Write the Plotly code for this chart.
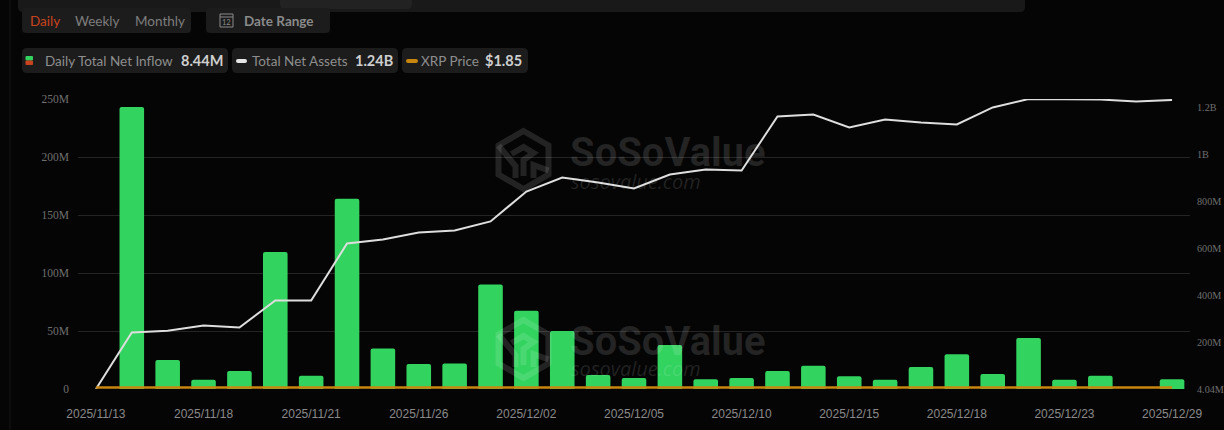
import plotly.graph_objects as go

dates = ["2025/11/13","2025/11/14","2025/11/17","2025/11/18","2025/11/19","2025/11/20","2025/11/21",
         "2025/11/24","2025/11/25","2025/11/26","2025/11/28","2025/12/01","2025/12/02","2025/12/03",
         "2025/12/04","2025/12/05","2025/12/08","2025/12/09","2025/12/10","2025/12/11","2025/12/12",
         "2025/12/15","2025/12/16","2025/12/17","2025/12/18","2025/12/19","2025/12/22","2025/12/23",
         "2025/12/24","2025/12/26","2025/12/29"]
net_inflow_m = [0,243,25,8,15.5,118,11.5,164,35,21.5,22,90,67.5,50,12,9.5,38,8.5,9.5,15.5,20,11,8,19,30,13,44,8,11.5,0,8.44]
net_assets_m = [4.04,244,252,274,265,380,380,622,639,669,677,716,843,902,881,856,915,936,932,1162,1170,1115,1149,1136,1128,1200,1236,1236,1234,1225,1232]
xrp_price = [2.33,2.45,2.20,2.15,2.10,2.02,1.95,2.05,2.20,2.20,2.18,2.05,2.10,2.18,2.08,2.05,2.05,2.08,2.05,2.02,2.00,1.95,1.90,1.85,1.88,1.90,1.92,1.88,1.87,1.86,1.85]
left_ticks_m = [0,50,100,150,200,250]
left_labels = ["0","50M","100M","150M","200M","250M"]
right_ticks_m = [4.04,200,400,600,800,1000,1200]
right_labels = ["4.04M","200M","400M","600M","800M","1B","1.2B"]
x_labels = dates[0::3]

W, H = 1224, 430
L, R, T, B = 78, 34, 99, 41
def px(x): return (x - L) / (W - L - R)
def py(y): return (H - B - y) / (H - T - B)

fig = go.Figure()
fig.add_bar(x=dates, y=net_inflow_m, marker=dict(color="#32D35F", line_width=0), width=0.685, name="Daily Total Net Inflow")
fig.add_scatter(x=dates, y=net_assets_m, yaxis="y2", mode="lines", line=dict(color="#DEDEDE", width=2), name="Total Net Assets", cliponaxis=False)
fig.add_scatter(x=dates, y=xrp_price, yaxis="y3", mode="lines", line=dict(color="#C8860F", width=2.5), name="XRP Price", cliponaxis=False)

shapes, ann = [], []
def rect(x0, y0, x1, y1, color, r=4):
    path = (f"M{px(x0+r)},{py(y0)} L{px(x1-r)},{py(y0)} Q{px(x1)},{py(y0)} {px(x1)},{py(y0+r)} "
            f"L{px(x1)},{py(y1-r)} Q{px(x1)},{py(y1)} {px(x1-r)},{py(y1)} L{px(x0+r)},{py(y1)} "
            f"Q{px(x0)},{py(y1)} {px(x0)},{py(y1-r)} L{px(x0)},{py(y0+r)} Q{px(x0)},{py(y0)} {px(x0+r)},{py(y0)} Z")
    shapes.append(dict(type="path", path=path, xref="paper", yref="paper", fillcolor=color, line_width=0, layer="below"))
def text(x, y, s, color="#8a8a8a", size=13, anchor="left", family="Lato", **kw):
    ann.append(dict(x=px(x), y=py(y), xref="paper", yref="paper", text=s, showarrow=False, xanchor=anchor,
                    yanchor="middle", font=dict(color=color, size=size, family=family), borderpad=0, **kw))

# page chrome
shapes.append(dict(type="line", x0=px(10), x1=px(10), y0=py(0), y1=py(430), xref="paper", yref="paper",
                   line=dict(color="#161616", width=1), layer="below"))
rect(18, -8, 1025, 12, "#191919", 5)
rect(280, -8, 412, 9, "#222222", 5)
rect(22, 8, 191, 33, "#1c1c1c", 4)
rect(206, 8, 330, 33, "#1c1c1c", 4)
rect(22, 48, 228, 73, "#1c1c1c", 5)
rect(232, 48, 398, 73, "#1c1c1c", 5)
rect(402, 48, 528, 73, "#1c1c1c", 5)
text(29, 21, "Daily", "#C9431E", 13.5)
text(74, 21, "Weekly", "#7e7e7e", 13.5)
text(134, 21, "Monthly", "#7e7e7e", 13.5)
text(243, 21, "<b>Date Range</b>", "#8a8a8a", 13.5)
shapes.append(dict(type="rect", x0=px(220), x1=px(233), y0=py(14), y1=py(27), xref="paper", yref="paper",
                   line=dict(color="#8a8a8a", width=1), fillcolor="rgba(0,0,0,0)"))
shapes.append(dict(type="line", x0=px(220), x1=px(233), y0=py(17), y1=py(17), xref="paper", yref="paper",
                   line=dict(color="#8a8a8a", width=1)))
text(226.5, 22, "12", "#8a8a8a", 7.5, anchor="center")
# legend pills
rect(25.5, 56, 33, 60.5, "#32D35F", 1)
rect(25.5, 60.5, 33, 65, "#C9431E", 1)
rect(236, 59, 247, 63, "#E6E6E6", 2)
rect(406, 59, 418, 63, "#C8860F", 2)
text(44, 61, "Daily Total Net Inflow", "#8e8e8e", 13.5)
text(179.5, 61, "<b>8.44M</b>", "#cfcfcf", 14.5)
text(251, 61, "Total Net Assets", "#8e8e8e", 13.5)
text(354, 61, "<b>1.24B</b>", "#cfcfcf", 14.5)
text(420, 61, "XRP Price", "#8e8e8e", 13.5)
text(484, 61, "<b>$1.85</b>", "#cfcfcf", 14.5)

# watermarks
WM = "rgba(255,255,255,0.12)"
def logo(cx, cy):
    w, h = 25, 29
    pts = [(cx, cy-h), (cx+w, cy-h/2), (cx+w, cy+h/2), (cx, cy+h), (cx-w, cy+h/2), (cx-w, cy-h/2)]
    outer = "M" + " L".join(f"{px(a)},{py(b)}" for a, b in pts) + " Z"
    inner = (f"M{px(cx-12)},{py(cy-6)} L{px(cx)},{py(cy-13)} L{px(cx+10)},{py(cy-7)} L{px(cx)},{py(cy)} L{px(cx)},{py(cy+16)} "
             f"M{px(cx-w)},{py(cy-h/2)} L{px(cx-8)},{py(cy+6)} L{px(cx-8)},{py(cy+18)} "
             f"M{px(cx+w)},{py(cy+h/2-4)} L{px(cx+10)},{py(cy+5)} L{px(cx+10)},{py(cy+18)}")
    shapes.append(dict(type="path", path=outer, xref="paper", yref="paper", line=dict(color=WM, width=6), layer="above"))
    shapes.append(dict(type="path", path=inner, xref="paper", yref="paper", line=dict(color=WM, width=6), layer="above"))
for cy_logo, cy_txt, cy_sub in [(160, 152, 181), (349, 341, 368)]:
    logo(523.5, cy_logo)
    text(569, cy_txt, "<b>SoSoValue</b>", WM, 40, family="Roboto")
    text(570, cy_sub, "<i>sosovalue.com</i>", WM, 20, family="Open Sans")

fig.update_layout(
    width=W, height=H, margin=dict(l=L, r=R, t=T, b=B, pad=0, autoexpand=False), autosize=False,
    paper_bgcolor="#050505", plot_bgcolor="#050505", showlegend=False, shapes=shapes, annotations=ann,
    bargap=0.315,
    barcornerradius=2,
    xaxis=dict(type="category", categoryorder="array", categoryarray=dates, tickmode="array", tickvals=x_labels,
               ticktext=x_labels, tickfont=dict(family="Liberation Sans", size=12, color="#8a8a8a"),
               showgrid=False, showline=False, zeroline=False, ticks="", ticklabelstandoff=16, tickangle=0,
               range=[-0.5, 30.5], automargin=False),
    yaxis=dict(range=[0, 250], tickmode="array", tickvals=left_ticks_m, ticktext=left_labels,
               tickfont=dict(family="Liberation Serif", size=11.5, color="#6f6f6f"), gridcolor="#242424", gridwidth=1,
               zeroline=False, showline=False, ticks="", ticklabelstandoff=8, automargin=False),
    yaxis2=dict(overlaying="y", side="right", range=[4.04, 1236], tickmode="array", tickvals=right_ticks_m,
                ticktext=right_labels, tickfont=dict(family="Liberation Serif", size=10.2, color="#6f6f6f"),
                showgrid=False, zeroline=False, showline=False, ticks="", ticklabelstandoff=6, automargin=False),
    yaxis3=dict(overlaying="y", visible=False, range=[-3, 1000], fixedrange=True),
)
fig.write_html("out.html", config={"displayModeBar": False},
               post_script="document.body.style.margin='0';document.body.style.background='#050505';")
